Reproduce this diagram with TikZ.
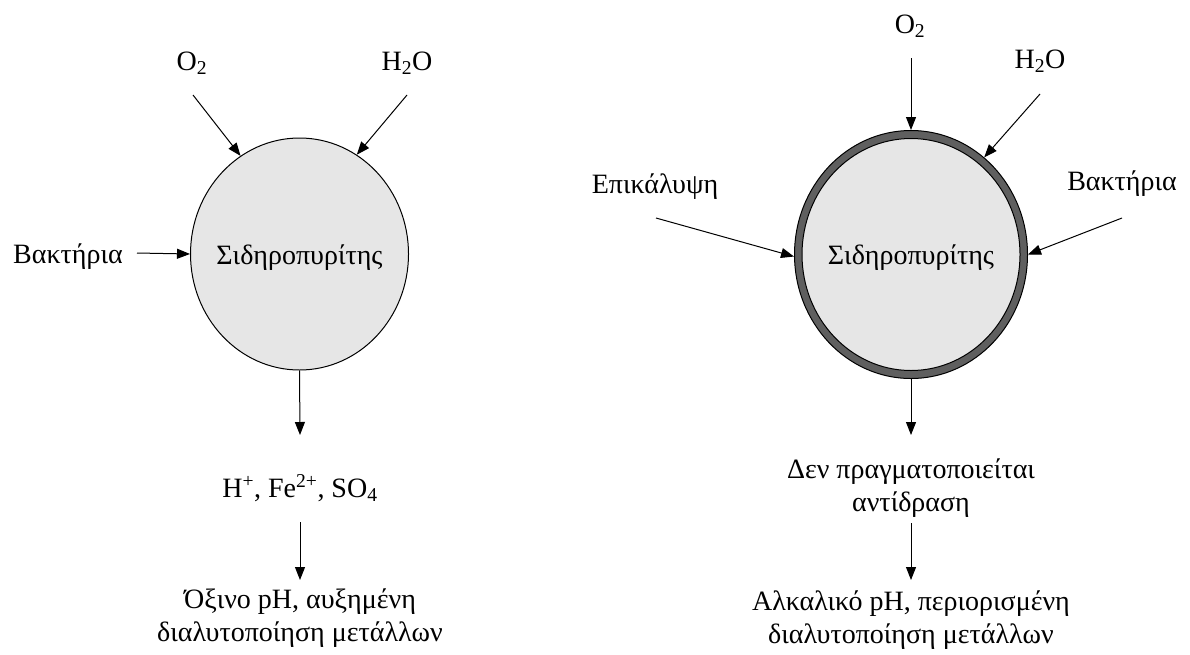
\documentclass[tikz,border=0pt]{standalone}
\usepackage{fontspec}
\setmainfont{Liberation Serif}
\usetikzlibrary{arrows.meta,shapes.geometric}
\definecolor{pyrfill}{HTML}{E6E6E6}
\definecolor{coatgray}{HTML}{5F5F5F}
\begin{document}
\begin{tikzpicture}[x=1pt,y=-1pt,
  lbl/.style={inner sep=0pt, anchor=base, font=\fontsize{28}{33}\selectfont},
  lbltwo/.style={lbl, align=center},
  flow/.style={draw=black, line width=1pt, -{Triangle[length=13pt,width=10pt]}},
  grain/.style={ellipse, draw=black, line width=1pt, fill=pyrfill,
    minimum width=218pt, minimum height=232pt, inner sep=0pt},
  coating/.style={ellipse, draw=black, line width=1pt, fill=coatgray,
    minimum width=233pt, minimum height=248pt, inner sep=0pt}]
\useasboundingbox (0,0) rectangle (1190,654);

% ---------- uncoated grain ----------
\node[grain] (pyrL) at (299.5,254) {};
\node[lbl] (nameL) at (299.5,264) {Σιδηροπυρίτης};
\node[lbl] (o2L) at (192,70) {O\textsubscript{2}};
\node[lbl] (h2oL) at (407,70) {H\textsubscript{2}O};
\node[lbl] (bakL) at (68,263) {Βακτήρια};
\node[lbl] (ionsL) at (300,497) {H\textsuperscript{+}, Fe\textsuperscript{2+}, SO\textsubscript{4}};
\node[lbltwo] (acidL) at (300,641) {Όξινο pH, αυξημένη\\διαλυτοποίηση μετάλλων};

\coordinate (o2Ls) at (193,95);
\coordinate (h2oLs) at (407,95);
\coordinate (bakLs) at (137,253);
\coordinate (ionsLe) at (300,435);
\coordinate (ionsLs) at (300,522);
\coordinate (acidLe) at (300,580);

\draw[flow] (o2Ls) -- (pyrL.121.8);
\draw[flow] (h2oLs) -- (pyrL.60.5);
\draw[flow] (bakLs) -- (pyrL.west);
\draw[flow] (pyrL.south) -- (ionsLe);
\draw[flow] (ionsLs) -- (acidLe);

% ---------- coated grain ----------
\node[coating] (coatR) at (911,254.5) {};
\node[grain] (pyrR) at (911,254.5) {};
\node[lbl] (nameR) at (911,264.5) {Σιδηροπυρίτης};
\node[lbl] (o2R) at (910,33) {O\textsubscript{2}};
\node[lbl] (h2oR) at (1040,68) {H\textsubscript{2}O};
\node[lbl] (bakR) at (1122,190) {Βακτήρια};
\node[lbl] (epiR) at (655,193) {Επικάλυψη};
\node[lbltwo] (noreactR) at (911,511) {Δεν πραγματοποιείται\\αντίδραση};
\node[lbltwo] (alkR) at (911,643) {Αλκαλικό pH, περιορισμένη\\διαλυτοποίηση μετάλλων};

\coordinate (o2Rs) at (911,58);
\coordinate (h2oRs) at (1040,94);
\coordinate (bakRs) at (1122,218);
\coordinate (epiRs) at (656,218);
\coordinate (noreactRe) at (911,435);
\coordinate (noreactRs) at (911,523);
\coordinate (alkRe) at (911,580);

\draw[flow] (o2Rs) -- (coatR.north);
\draw[flow] (h2oRs) -- (coatR.53.2);
\draw[flow] (bakRs) -- (coatR.east);
\draw[flow] (epiRs) -- (coatR.181);
\draw[flow] (coatR.south) -- (noreactRe);
\draw[flow] (noreactRs) -- (alkRe);
\end{tikzpicture}
\end{document}
